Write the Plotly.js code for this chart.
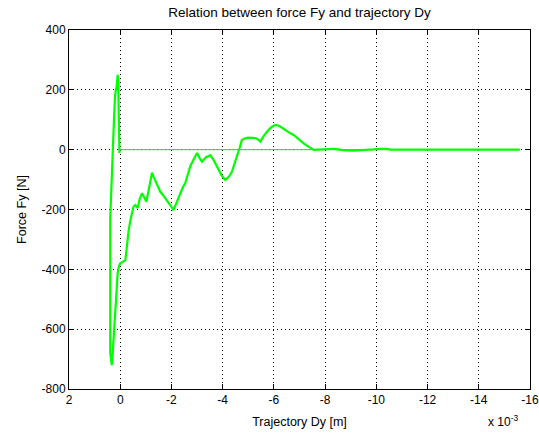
<!DOCTYPE html>
<html>
<head>
<meta charset="utf-8">
<script src="https://cdn.plot.ly/plotly-3.0.1.min.js"></script>
<style>html,body{margin:0;padding:0;background:#fff;}#chart{width:539px;height:438px;}</style>
</head>
<body>
<div id="chart"></div>
<script>
// Trajectory Dy in units of 1e-3 m, Force Fy in N
const dyMilli = [0.03,0.05,0.08,0.1,0.12,0.14,0.17,0.2,0.24,0.28,0.33,0.36,0.39,0.39,0.39,0.39,0.36,0.33,0.3,0.26,0.2,0.15,0.1,0.05,0.0,-0.1,-0.2,-0.26,-0.3,-0.33,-0.4,-0.46,-0.52,-0.59,-0.64,-0.68,-0.76,-0.85,-0.94,-1.02,-1.1,-1.17,-1.24,-1.3,-1.4,-1.56,-1.7,-1.82,-1.95,-2.08,-2.2,-2.34,-2.45,-2.54,-2.65,-2.73,-2.85,-3.0,-3.1,-3.19,-3.35,-3.52,-3.65,-3.78,-3.95,-4.1,-4.25,-4.36,-4.46,-4.56,-4.66,-4.75,-4.88,-5.0,-5.15,-5.27,-5.37,-5.47,-5.6,-5.73,-5.9,-6.05,-6.2,-6.4,-6.6,-6.77,-6.95,-7.16,-7.35,-7.55,-7.75,-7.94,-8.15,-8.33,-8.5,-8.72,-9.1,-9.5,-9.7,-9.9,-10.1,-10.35,-10.6,-11.5,-12.0,-12.5,-13.5,-15.6];
const forceFy = [-11,166,230,250,215,210,200,180,110,20,-45,-150,-230,-400,-560,-680,-700,-720,-690,-640,-547,-470,-413,-390,-380,-375,-369,-324,-290,-269,-235,-212,-190,-185,-190,-195,-165,-146,-160,-174,-140,-112,-77,-90,-110,-140,-155,-168,-185,-202,-175,-146,-125,-112,-80,-57,-35,-11,-28,-40,-25,-18,-35,-57,-85,-101,-90,-74,-50,-23,5,32,38,40,40,39,35,27,45,60,75,83,80,68,57,49,35,21,10,-1,0,1,2,3,1,-2,-3,-2,0,1,3,3,0,0,-1,0,0,0];
// Return path along zero force
const zeroDy = [0.03,-15.6];
const zeroFy = [0,0];

const xTicks = [2,0,-2,-4,-6,-8,-10,-12,-14,-16];
const yTicks = [-800,-600,-400,-200,0,200,400];

const fam = '"Liberation Sans", Arial, sans-serif';
const font = {family:fam, size:12, color:'#000'};
const titleFont = {family:fam, size:13.5, color:'#000'};

const traces = [
  {x: zeroDy, y: zeroFy, mode:'lines', line:{color:'#00ff00', width:1}, hoverinfo:'skip'},
  {x: dyMilli, y: forceFy, mode:'lines', line:{color:'#00ff00', width:2.2}}
];

const axisCommon = {
  showline:true, linecolor:'#000', linewidth:1, mirror:'ticks',
  ticks:'inside', ticklen:5, tickcolor:'#000', tickwidth:1,
  showgrid:true, gridcolor:'#000', griddash:'1px,3px', gridwidth:1,
  zeroline:false, tickfont:font
};

const layout = {
  width:539, height:438,
  margin:{l:69, r:9, t:30, b:49},
  paper_bgcolor:'#fff', plot_bgcolor:'#fff',
  showlegend:false,
  font: font,
  title:{text:'Relation between force Fy and trajectory Dy', font:titleFont, x:0.5, xref:'paper', y:1-12/438, yref:'container', yanchor:'middle'},
  xaxis: Object.assign({}, axisCommon, {
    range:[2,-16], tickvals:xTicks, ticktext:xTicks.map(String),
    title:{text:'Trajectory Dy [m]', font:{family:fam, size:12.5, color:'#000'}, standoff:10}
  }),
  yaxis: Object.assign({}, axisCommon, {
    range:[-800,400], tickvals:yTicks, ticktext:yTicks.map(String),
    title:{text:'Force Fy [N]', font:{family:fam, size:12.5, color:'#000'}, standoff:12}
  }),
  annotations:[
    {text:'x 10<sup>-3</sup>', xref:'paper', yref:'paper', x:(520-69)/461, y:(389-421)/359, xanchor:'right', yanchor:'middle', showarrow:false, font:font}
  ]
};

Plotly.newPlot('chart', traces, layout, {staticPlot:true, displayModeBar:false});
</script>
</body>
</html>
